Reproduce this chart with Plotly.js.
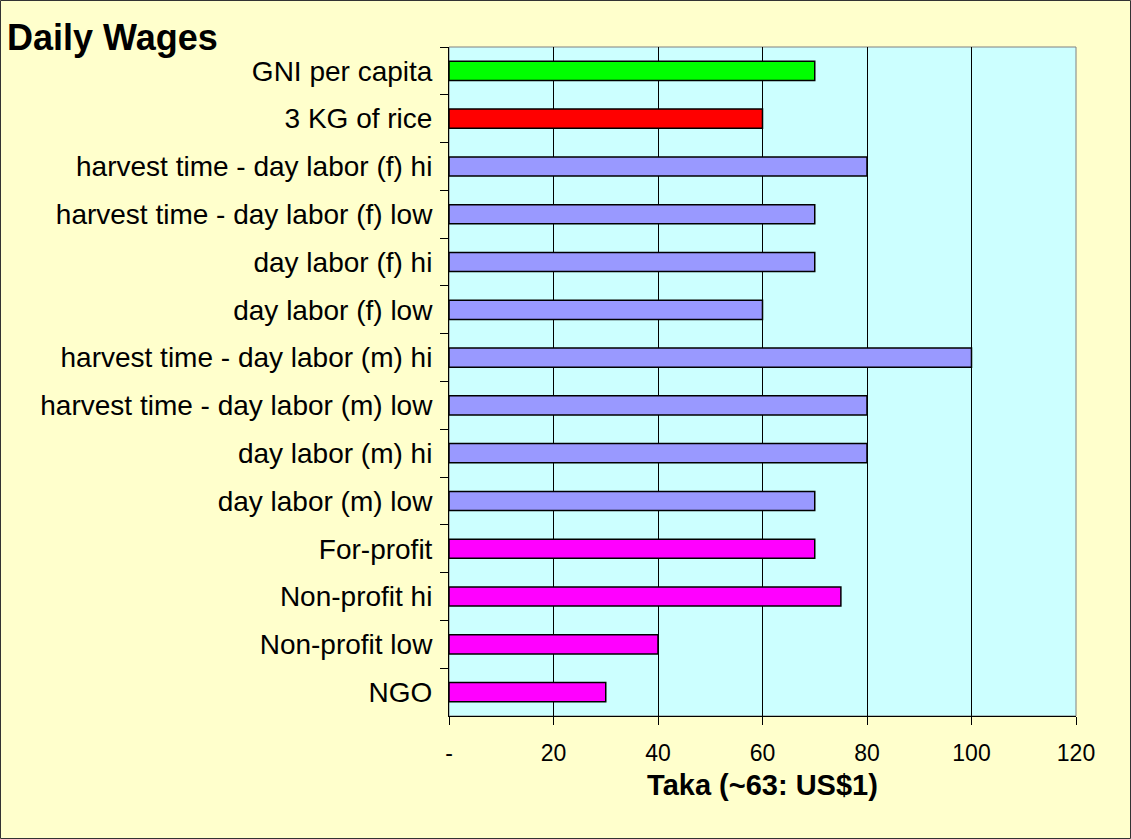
<!DOCTYPE html>
<html>
<head>
<meta charset="utf-8">
<script src="https://cdn.plot.ly/plotly-3.0.1.min.js"></script>
<style>
html,body{margin:0;padding:0;background:#FFFFCC;}
#chart{width:1131px;height:839px;}
</style>
</head>
<body>
<div id="chart"></div>
<script>
// Data (top to bottom as shown)
const categories = [
  "GNI per capita",
  "3 KG of rice",
  "harvest time - day labor (f) hi",
  "harvest time - day labor (f) low",
  "day labor (f) hi",
  "day labor (f) low",
  "harvest time - day labor (m) hi",
  "harvest time - day labor (m) low",
  "day labor (m) hi",
  "day labor (m) low",
  "For-profit",
  "Non-profit hi",
  "Non-profit low",
  "NGO"
];
const values = [70, 60, 80, 70, 70, 60, 100, 80, 80, 70, 70, 75, 40, 30];
const groups = ["income","food","labor","labor","labor","labor","labor","labor","labor","labor","job","job","job","job"];
const xTickVals = [0, 20, 40, 60, 80, 100, 120];
const xTickText = ["-", "20", "40", "60", "80", "100", "120"];

const groupColor = {income:"#00FF00", food:"#FF0000", labor:"#9999FF", job:"#FF00FF"};

const W = 1131, H = 839;
const M = {l:449, r:55, t:47, b:123};
const pw = W - M.l - M.r, ph = H - M.t - M.b;

const trace = {
  type: "bar",
  orientation: "h",
  y: categories,
  x: values,
  marker: {color: groups.map(g => groupColor[g]), line: {color: "#000000", width: 1.5}},
  hoverinfo: "x+y"
};

const layout = {
  width: W, height: H,
  margin: M,
  paper_bgcolor: "#FFFFCC",
  plot_bgcolor: "#CCFFFF",
  font: {family: "Liberation Sans, Arial, sans-serif", color: "#000000"},
  showlegend: false,
  bargap: 0.6,
  title: {
    text: "<b>Daily Wages</b>",
    font: {size: 36, family: "Liberation Sans, Arial, sans-serif", color: "#000"},
    x: 7 / W, xanchor: "left", xref: "container",
    y: 1 - 37 / H, yanchor: "middle", yref: "container"
  },
  xaxis: {
    range: [0, 120],
    tickvals: xTickVals,
    ticktext: xTickText,
    tickfont: {size: 23},
    ticks: "outside", ticklen: 8, tickwidth: 1, tickcolor: "#000",
    ticklabelstandoff: 8,
    showline: true, linecolor: "#000", linewidth: 1,
    showgrid: true, gridcolor: "#000", gridwidth: 1,
    zeroline: false,
    fixedrange: true,
    title: {text: "<b>Taka (~63: US$1)</b>", font: {size: 29}, standoff: 10}
  },
  yaxis: {
    type: "category",
    autorange: "reversed",
    tickson: "boundaries",
    ticks: "outside", ticklen: 8, tickwidth: 1, tickcolor: "#000",
    ticklabelstandoff: 10,
    tickfont: {size: 28},
    showline: true, linecolor: "#000", linewidth: 1,
    showgrid: false,
    zeroline: false,
    fixedrange: true
  },
  shapes: [
    {type: "rect", xref: "paper", yref: "paper", x0: 0, x1: 1, y0: 0, y1: 1,
     line: {color: "#808080", width: 1}, layer: "below"},
    {type: "rect", xref: "paper", yref: "paper",
     x0: -(M.l - 0.5) / pw, x1: 1 + (M.r - 0.5) / pw,
     y0: -(M.b - 0.5) / ph, y1: 1 + (M.t - 0.5) / ph,
     line: {color: "#333333", width: 1}, layer: "above"}
  ]
};

Plotly.newPlot("chart", [trace], layout, {displayModeBar: false, staticPlot: true});
</script>
</body>
</html>
